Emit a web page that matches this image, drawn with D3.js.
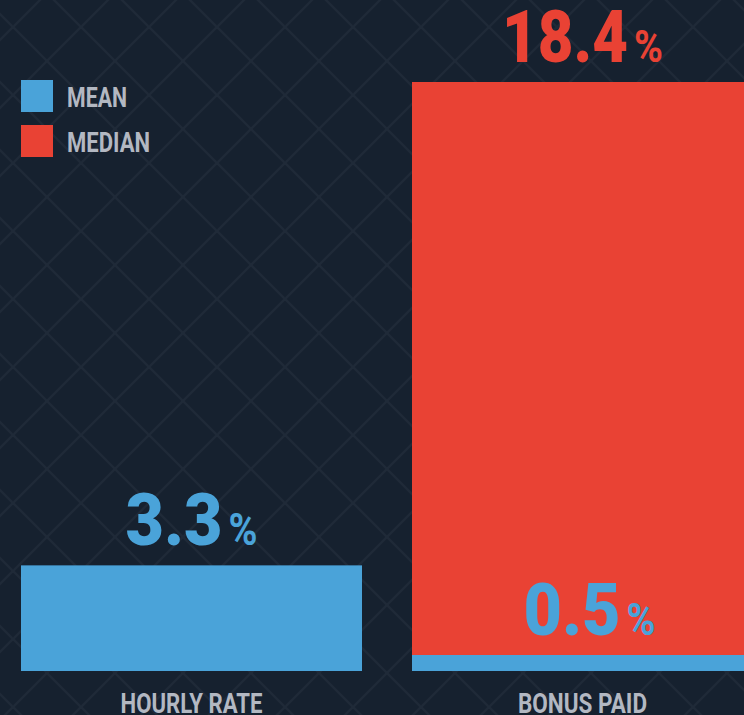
<!DOCTYPE html>
<html>
<head>
<meta charset="utf-8">
<script src="https://cdn.jsdelivr.net/npm/d3@7"></script>
<style>
  html, body { margin: 0; padding: 0; background: #16212f; overflow: hidden; }
  svg { display: block; }
</style>
</head>
<body>
<script>
// ---- data ----
const categories = ["HOURLY RATE", "BONUS PAID"];
const meanValues = [3.3, 0.5];
const medianValues = [null, 18.4];
const seriesNames = ["MEAN", "MEDIAN"];

// ---- layout ----
const W = 744, H = 715;
const colors = { MEAN: "#4aa3d9", MEDIAN: "#e94234" };
const bg = "#16212f";
const textGray = "#b3b8c2";

const svg = d3.select("body").append("svg").attr("width", W).attr("height", H);

// background pattern
const defs = svg.append("defs");
const pat = defs.append("pattern")
  .attr("id", "grid").attr("patternUnits", "userSpaceOnUse")
  .attr("width", 68).attr("height", 68).attr("x", 13).attr("y", 27);
pat.append("rect").attr("width", 68).attr("height", 68).attr("fill", bg);
[[-1, -1, 69, 69], [69, -1, -1, 69]].forEach(([x1, y1, x2, y2]) => {
  pat.append("line").attr("x1", x1).attr("y1", y1).attr("x2", x2).attr("y2", y2)
    .attr("stroke", "#1f2a38").attr("stroke-width", 2.2);
});
svg.append("rect").attr("width", W).attr("height", H).attr("fill", "url(#grid)");

// scales
const x = d3.scaleBand().domain(categories).range([21, 753]).paddingInner(50 / 391).paddingOuter(0);
const y = d3.scaleLinear().domain([0, 18.4]).range([671, 82]);

const font = "Roboto, 'DejaVu Sans', sans-serif";

// bars: median behind, mean in front
const medianData = categories.map((c, i) => ({ c, v: medianValues[i], s: "MEDIAN" })).filter(d => d.v != null);
const meanData = categories.map((c, i) => ({ c, v: meanValues[i], s: "MEAN" }));

svg.append("g").selectAll("rect").data(medianData).join("rect")
  .attr("x", d => x(d.c)).attr("width", x.bandwidth())
  .attr("y", d => y(d.v)).attr("height", d => y(0) - y(d.v))
  .attr("fill", colors.MEDIAN);

svg.append("g").selectAll("rect").data(meanData).join("rect")
  .attr("x", d => x(d.c)).attr("width", x.bandwidth())
  .attr("y", d => y(d.v)).attr("height", d => y(0) - y(d.v))
  .attr("fill", colors.MEAN);

// value labels
function valueLabel(d, color) {
  // small label nudge for the inside-bar mean label on the second category
  const nudge = (d.s === "MEAN" && d.c === categories[1]) ? 7 : 0;
  const cx = x(d.c) + x.bandwidth() / 2 + nudge;
  const str = d.v.toFixed(1);
  const base = y(d.v) - 20;
  const numW = str.length === 4 ? 126 : 97;
  const pctW = 29, gap = 6;
  const total = numW + gap + pctW;
  const left = cx - total / 2;
  const g = svg.append("g");
  g.append("text").attr("x", left).attr("y", base)
    .attr("font-family", font).attr("font-weight", 900).attr("font-size", 72)
    .attr("fill", color).attr("textLength", numW).attr("lengthAdjust", "spacingAndGlyphs")
    .text(str);
  g.append("text").attr("x", left + numW + gap).attr("y", base)
    .attr("font-family", font).attr("font-weight", 700).attr("font-size", 45)
    .attr("fill", color).attr("textLength", pctW).attr("lengthAdjust", "spacingAndGlyphs")
    .text("%");
}
medianData.forEach(d => valueLabel(d, colors.MEDIAN));
meanData.forEach(d => valueLabel(d, colors.MEAN));

// category axis labels
const catWidths = { "HOURLY RATE": 142, "BONUS PAID": 129 };
svg.append("g").selectAll("text").data(categories).join("text")
  .attr("x", d => x(d) + x.bandwidth() / 2 - catWidths[d] / 2)
  .attr("y", 713)
  .attr("font-family", font).attr("font-weight", 700).attr("font-size", 28)
  .attr("fill", textGray)
  .attr("textLength", d => catWidths[d]).attr("lengthAdjust", "spacingAndGlyphs")
  .text(d => d);

// legend
const legW = { MEAN: 60, MEDIAN: 83 };
const leg = svg.append("g").selectAll("g").data(seriesNames).join("g")
  .attr("transform", (d, i) => `translate(21,${80 + i * 45})`);
leg.append("rect").attr("width", 32).attr("height", 32).attr("fill", d => colors[d]);
leg.append("text").attr("x", 46).attr("y", 27)
  .attr("font-family", font).attr("font-weight", 700).attr("font-size", 28)
  .attr("fill", textGray)
  .attr("textLength", d => legW[d]).attr("lengthAdjust", "spacingAndGlyphs")
  .text(d => d);
</script>
</body>
</html>
